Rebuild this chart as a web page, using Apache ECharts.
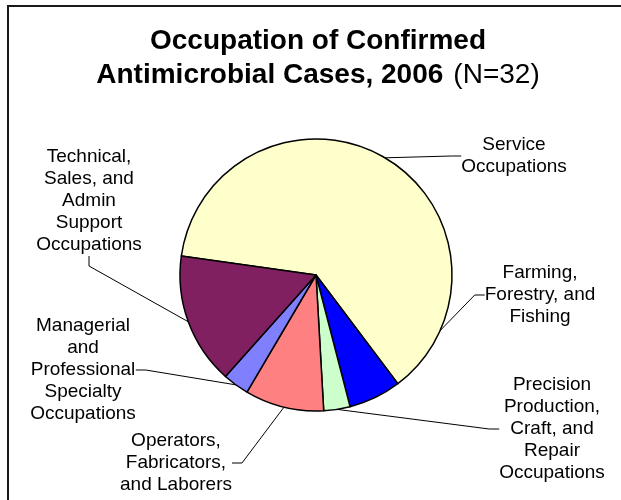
<!DOCTYPE html>
<html>
<head>
<meta charset="utf-8">
<script src="https://cdn.jsdelivr.net/npm/echarts@6/dist/echarts.min.js"></script>
<style>
  html, body { margin: 0; padding: 0; background: #fff; }
  #chart { width: 621px; height: 500px; }
</style>
</head>
<body>
<div id="chart"></div>
<script>
// slices in clockwise order, as drawn
const occupations = [
  "Service\nOccupations",
  "Farming,\nForestry, and\nFishing",
  "Precision\nProduction,\nCraft, and\nRepair\nOccupations",
  "Operators,\nFabricators,\nand Laborers",
  "Managerial\nand\nProfessional\nSpecialty\nOccupations",
  "Technical,\nSales, and\nAdmin\nSupport\nOccupations"
];
const cases = [20, 2, 1, 3, 1, 5];
const sliceColors = ["#FFFFCC", "#0000FF", "#CCFFCC", "#FF8080", "#8080FF", "#802060"];

// where each label block sits (centre, px)
const labelSpots = [
  [514, 156],
  [540, 295],
  [552, 429],
  [176, 463],
  [83, 370],
  [89, 201]
];

const font = "'Liberation Sans', Arial, sans-serif";

const chart = echarts.init(document.getElementById("chart"), null, { renderer: "canvas" });

const option = {
  backgroundColor: "#fff",
  animation: false,
  title: {
    left: 318,
    top: 24,
    padding: 0,
    textAlign: "center",
    text: "{b|Occupation of Confirmed}\n{b|Antimicrobial Cases, 2006}  {n|(N=32)}",
    textStyle: {
      rich: {
        b: { fontFamily: font, fontSize: 28, fontWeight: "bold", color: "#000", lineHeight: 34 },
        n: { fontFamily: font, fontSize: 28, fontWeight: "normal", color: "#000", lineHeight: 34 }
      }
    }
  },
  graphic: [
    {
      type: "rect",
      shape: { x: 8, y: 6, width: 700, height: 600 },
      style: { fill: null, stroke: "#1a1a1a", lineWidth: 2 },
      silent: true
    }
  ],
  series: [
    {
      type: "pie",
      center: [316, 275],
      radius: 136,
      startAngle: 172,
      clockwise: true,
      avoidLabelOverlap: false,
      emphasis: { disabled: true },
      itemStyle: { borderColor: "#000", borderWidth: 1.5 },
      label: {
        show: true,
        position: "outside",
        formatter: "{b}",
        fontFamily: font,
        fontSize: 19,
        lineHeight: 22,
        color: "#000",
        align: "center"
      },
      labelLine: {
        show: true,
        length: 10,
        length2: 10,
        lineStyle: { color: "#000", width: 1 }
      },
      labelLayout: function (params) {
        const p = labelSpots[params.dataIndex];
        return { x: p[0], y: p[1], align: "center", verticalAlign: "middle" };
      },
      data: occupations.map((name, i) => ({
        name: name,
        value: cases[i],
        itemStyle: { color: sliceColors[i] }
      }))
    }
  ]
};

chart.setOption(option);
</script>
</body>
</html>
